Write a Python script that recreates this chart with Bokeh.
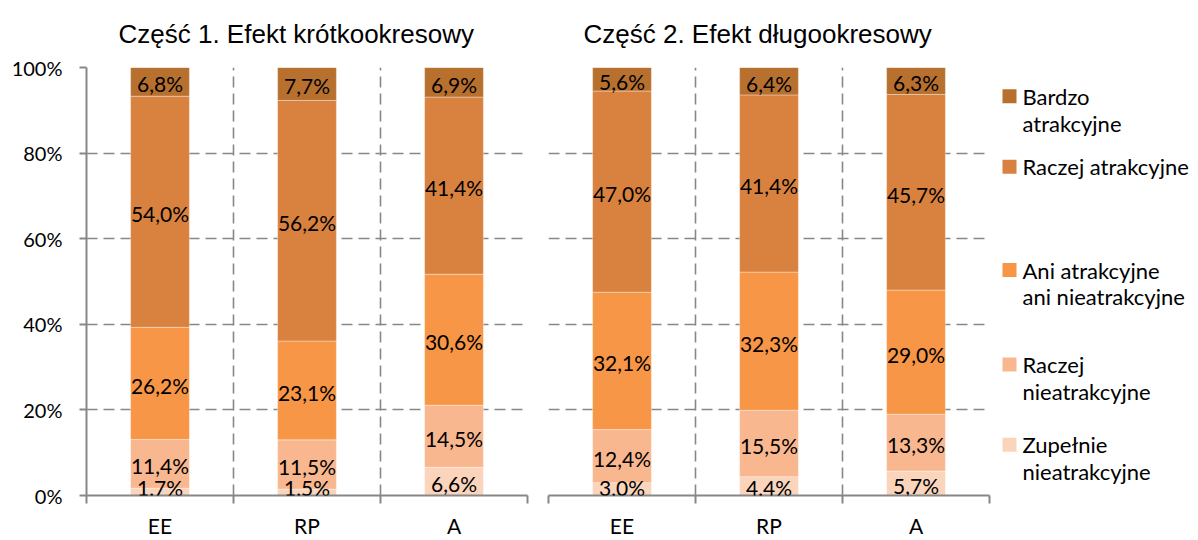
from bokeh.plotting import figure
from bokeh.layouts import row, column
from bokeh.models import (Range1d, FixedTicker, NumeralTickFormatter, ColumnDataSource,
                          LabelSet)
from bokeh.core.properties import value
from bokeh.embed import file_html
from bokeh.resources import INLINE

# ---------------- data ----------------
categories = ["EE", "RP", "A"]
series = ["Zupełnie nieatrakcyjne", "Raczej nieatrakcyjne",
          "Ani atrakcyjne ani nieatrakcyjne", "Raczej atrakcyjne", "Bardzo atrakcyjne"]
legend_lines = [["Zupełnie", "nieatrakcyjne"], ["Raczej", "nieatrakcyjne"],
                ["Ani atrakcyjne", "ani nieatrakcyjne"], ["Raczej atrakcyjne"],
                ["Bardzo", "atrakcyjne"]]
colors = ["#FBD4BC", "#F9B78F", "#F79646", "#D9823F", "#B8702F"]

titles = ["Część 1. Efekt krótkookresowy", "Część 2. Efekt długookresowy"]

p1_zupelnie = [1.7, 1.5, 6.6]
p1_raczej_nie = [11.4, 11.5, 14.5]
p1_ani = [26.2, 23.1, 30.6]
p1_raczej_atr = [54.0, 56.2, 41.4]
p1_bardzo = [6.8, 7.7, 6.9]

p2_zupelnie = [3.0, 4.4, 5.7]
p2_raczej_nie = [12.4, 15.5, 13.3]
p2_ani = [32.1, 32.3, 29.0]
p2_raczej_atr = [47.0, 41.4, 45.7]
p2_bardzo = [5.6, 6.4, 6.3]

y_ticks = [0, 0.2, 0.4, 0.6, 0.8, 1.0]

GRID = "#878787"
FONT = "Lato"
TOTAL_W = 1194
H = 540
TITLE_H = 53
TOP = 67            # page y of the plot frames' top edge
FRAME_H = 431
PLOT_H = H - TITLE_H
MB_TOP = TOP - TITLE_H
MB_BOTTOM = PLOT_H - MB_TOP - FRAME_H
MIN_LABEL_Y = 0.023  # keep tiny-segment labels inside the plot area


def make_panel(data, show_y, width, mb_left, mb_right):
    xs = [i + 1 for i in range(len(categories))]
    keys = ["s%d" % i for i in range(len(series))]
    src = {"x": xs}
    for k, vals in zip(keys, data):
        src[k] = [v / 100.0 for v in vals]
    p = figure(width=width, height=PLOT_H, x_range=Range1d(0.5, len(categories) + 0.5),
               y_range=Range1d(0, 1), output_backend="svg", toolbar_location=None,
               min_border_left=mb_left, min_border_right=mb_right,
               min_border_top=MB_TOP, min_border_bottom=MB_BOTTOM,
               y_axis_location="left" if show_y else None)
    p.outline_line_color = None

    p.vbar_stack(keys, x="x", width=0.4, color=colors, source=ColumnDataSource(src),
                 line_color="white", line_alpha=0.35, line_width=1)

    # data labels
    lx, ly, lt = [], [], []
    for j, x in enumerate(xs):
        cum = 0.0
        for vals in data:
            v = vals[j]
            lx.append(x)
            ly.append(max((cum + v / 2.0) / 100.0, MIN_LABEL_Y))
            lt.append(("%.1f" % v).replace(".", ",") + "%")
            cum += v
    p.add_layout(LabelSet(x="x", y="y", text="t",
                          source=ColumnDataSource(dict(x=lx, y=ly, t=lt)),
                          text_font=value(FONT), text_font_size="21px",
                          text_align="center", text_baseline="middle",
                          text_color="#000000", y_offset=-2))

    # grids
    bounds = [x + 0.5 for x in [0] + xs]
    p.xgrid.ticker = FixedTicker(ticks=bounds if not show_y else bounds[1:])
    p.ygrid.ticker = FixedTicker(ticks=y_ticks[1:])
    for g in (p.xgrid, p.ygrid):
        g.grid_line_color = GRID
        g.grid_line_width = 1.6
        g.grid_line_dash = "11 6"

    # x axis (boundary ticks drawn outward via negative "in" length)
    xa = p.xaxis[0]
    xa.ticker = FixedTicker(ticks=xs, minor_ticks=bounds)
    xa.major_label_overrides = {x: c for x, c in zip(xs, categories)}
    xa.major_tick_line_color = None
    xa.major_tick_out = 0
    xa.major_tick_in = 0
    xa.minor_tick_line_color = GRID
    xa.minor_tick_line_width = 2
    xa.minor_tick_out = 0
    xa.minor_tick_in = -8
    xa.axis_line_color = GRID
    xa.axis_line_width = 2
    xa.major_label_standoff = 17
    xa.major_label_text_font = FONT
    xa.major_label_text_font_size = "21px"
    xa.major_label_text_color = "#000000"

    if show_y:
        ya = p.yaxis[0]
        ya.ticker = FixedTicker(ticks=y_ticks)
        ya.formatter = NumeralTickFormatter(format="0%")
        ya.major_tick_line_color = GRID
        ya.major_tick_line_width = 2
        ya.major_tick_out = 7
        ya.major_tick_in = 0
        ya.minor_tick_line_color = None
        ya.axis_line_color = GRID
        ya.axis_line_width = 2
        ya.major_label_standoff = 17
        ya.major_label_text_font = FONT
        ya.major_label_text_font_size = "20px"
        ya.major_label_text_color = "#000000"
    return p


p1 = make_panel([p1_zupelnie, p1_raczej_nie, p1_ani, p1_raczej_atr, p1_bardzo],
                True, 537, 86, 10)
p2 = make_panel([p2_zupelnie, p2_raczej_nie, p2_ani, p2_raczej_atr, p2_bardzo],
                False, 457, 11, 5)

# title strip (coordinates = page pixels)
tfig = figure(width=TOTAL_W, height=TITLE_H, x_range=Range1d(0, TOTAL_W),
              y_range=Range1d(TITLE_H, 0), output_backend="svg", toolbar_location=None,
              min_border_left=0, min_border_right=0, min_border_top=0,
              min_border_bottom=0, x_axis_location=None, y_axis_location=None)
tfig.outline_line_color = None
tfig.xgrid.visible = False
tfig.ygrid.visible = False
tfig.text(x=[118, 583], y=[33, 33], text=titles, text_font=value("Liberation Sans"),
          text_font_size="26px", text_align="left", text_baseline="alphabetic",
          text_color="#000000")

# legend panel (coordinates map to page pixels: frame spans y 67..498)
LEG_X0 = 994
LEG_W = TOTAL_W - LEG_X0
leg = figure(width=LEG_W, height=PLOT_H, x_range=Range1d(LEG_X0, LEG_X0 + LEG_W),
             y_range=Range1d(TOP + FRAME_H, TOP),
             output_backend="svg", toolbar_location=None,
             min_border_left=0, min_border_right=0, min_border_top=MB_TOP,
             min_border_bottom=MB_BOTTOM,
             x_axis_location=None, y_axis_location=None)
leg.outline_line_color = None
leg.xgrid.visible = False
leg.ygrid.visible = False
entry_y = [447, 366, 271, 167, 96]  # order matches series (bottom to top)
leg.scatter(x=[1009] * len(series), y=entry_y, marker="square", size=14,
            color=colors, line_color=None)
tx, ty, tt = [], [], []
for lines, y0 in zip(legend_lines, entry_y):
    for k, ln in enumerate(lines):
        tx.append(1022)
        ty.append(y0 + 27 * k)
        tt.append(ln)
leg.text(x="x", y="y", text="t", source=ColumnDataSource(dict(x=tx, y=ty, t=tt)),
         text_font=value(FONT), text_font_size="22px", text_align="left",
         text_baseline="middle", text_color="#000000")

layout = column(tfig, row(p1, p2, leg))
open("out.html", "w").write(file_html(layout, INLINE))
